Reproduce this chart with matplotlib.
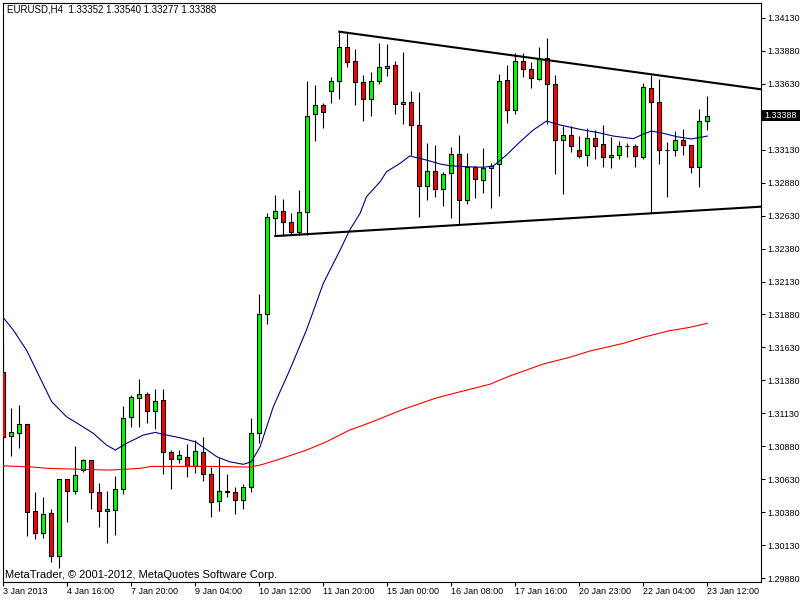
import numpy as np
import matplotlib
matplotlib.use('Agg')
import matplotlib.pyplot as plt
from matplotlib.patches import Rectangle

# EURUSD H4 candles (bar 0 = leftmost, bar 88 = last)
opens = [
    1.31441, 1.30955, 1.30981, 1.31046, 1.30388, 1.30219, 1.30371, 1.30049, 1.30629, 1.30542,
    1.30697, 1.30773, 1.30529, 1.30386, 1.30393, 1.30553, 1.31099, 1.31244, 1.31276, 1.31145,
    1.31228, 1.30834, 1.30781, 1.30800, 1.30727, 1.30834, 1.30667, 1.30462, 1.30534, 1.30529,
    1.30469, 1.30568, 1.30981, 1.31881, 1.32610, 1.32663, 1.32582, 1.32506, 1.32655, 1.33399,
    1.33467, 1.33574, 1.33649, 1.33908, 1.33801, 1.33642, 1.33513, 1.33649, 1.33748, 1.33771,
    1.33475, 1.33490, 1.33316, 1.32855, 1.32971, 1.32830, 1.32951, 1.33095, 1.32746, 1.33001,
    1.32898, 1.32994, 1.33020, 1.33657, 1.33432, 1.33801, 1.33741, 1.33667, 1.33829, 1.33627,
    1.33204, 1.33240, 1.33126, 1.33088, 1.33217, 1.33171, 1.33073, 1.33088, 1.33156, 1.33156,
    1.33077, 1.33596, 1.33490, 1.33130, 1.33126, 1.33202, 1.33164, 1.32999, 1.33352]
highs = [
    1.31686, 1.31172, 1.31193, 1.31046, 1.30529, 1.30497, 1.30401, 1.30629, 1.30629, 1.30882,
    1.30785, 1.30773, 1.30603, 1.30539, 1.30656, 1.31185, 1.31269, 1.31388, 1.31290, 1.31312,
    1.31312, 1.30851, 1.30851, 1.30894, 1.30927, 1.30948, 1.30720, 1.30788, 1.30669, 1.30573,
    1.30591, 1.31096, 1.32035, 1.32652, 1.32787, 1.32754, 1.32652, 1.32822, 1.33652, 1.33621,
    1.33483, 1.33680, 1.34026, 1.34014, 1.33892, 1.33697, 1.33722, 1.33938, 1.33930, 1.33804,
    1.33870, 1.33574, 1.33568, 1.33179, 1.33164, 1.32963, 1.33151, 1.33240, 1.33103, 1.33009,
    1.33143, 1.33027, 1.33705, 1.33773, 1.33867, 1.33862, 1.33798, 1.33908, 1.33976, 1.33697,
    1.33308, 1.33308, 1.33234, 1.33293, 1.33280, 1.33316, 1.33229, 1.33196, 1.33184, 1.33170,
    1.33635, 1.33697, 1.33665, 1.33187, 1.33275, 1.33285, 1.33164, 1.33439, 1.33540]
lows = [
    1.30932, 1.30808, 1.30869, 1.30198, 1.30178, 1.30183, 1.30001, 1.29958, 1.30307, 1.30517,
    1.30682, 1.30403, 1.30269, 1.30148, 1.30208, 1.30517, 1.31028, 1.31023, 1.31056, 1.31013,
    1.30671, 1.30553, 1.30750, 1.30648, 1.30679, 1.30616, 1.30345, 1.30388, 1.30497, 1.30368,
    1.30406, 1.30530, 1.30902, 1.31805, 1.32475, 1.32475, 1.32483, 1.32483, 1.32483, 1.33199,
    1.33297, 1.33487, 1.33515, 1.33760, 1.33472, 1.33350, 1.33388, 1.33627, 1.33692, 1.33404,
    1.33328, 1.33092, 1.32622, 1.32749, 1.32774, 1.32705, 1.32610, 1.32566, 1.32718, 1.32761,
    1.32800, 1.32686, 1.32781, 1.33331, 1.33404, 1.33680, 1.33601, 1.33659, 1.33323, 1.32948,
    1.32792, 1.33111, 1.33065, 1.33009, 1.33062, 1.32999, 1.32989, 1.33058, 1.33077, 1.32998,
    1.33062, 1.32652, 1.33020, 1.32769, 1.33080, 1.33092, 1.32956, 1.32845, 1.33277]
closes = [
    1.30948, 1.30985, 1.31046, 1.30383, 1.30219, 1.30363, 1.30049, 1.30629, 1.30544, 1.30658,
    1.30773, 1.30529, 1.30386, 1.30403, 1.30553, 1.31092, 1.31251, 1.31276, 1.31145, 1.31225,
    1.30834, 1.30781, 1.30811, 1.30727, 1.30841, 1.30667, 1.30454, 1.30539, 1.30537, 1.30469,
    1.30568, 1.30981, 1.31881, 1.32617, 1.32663, 1.32582, 1.32506, 1.32655, 1.33388, 1.33467,
    1.33414, 1.33649, 1.33908, 1.33798, 1.33642, 1.33513, 1.33649, 1.33756, 1.33768, 1.33475,
    1.33490, 1.33316, 1.32855, 1.32971, 1.32830, 1.32944, 1.33095, 1.32746, 1.33001, 1.32906,
    1.32992, 1.33009, 1.33649, 1.33432, 1.33801, 1.33741, 1.33672, 1.33817, 1.33627, 1.33204,
    1.33240, 1.33158, 1.33080, 1.33217, 1.33161, 1.33073, 1.33088, 1.33156, 1.33158, 1.33080,
    1.33603, 1.33490, 1.33126, 1.33128, 1.33202, 1.33164, 1.32999, 1.33346, 1.33388]

# moving averages (bar position, value)
ma_blue_x = [-0.1, 1.25, 2.9, 4.6, 6.05, 7.9, 9.6, 11.25, 12.9, 14.0, 15.4, 17.5, 19.0, 20.0,
             22.1, 24.0, 25.2, 26.7, 28.3, 30.0, 31.0, 32.1, 33.75, 35.8, 37.9, 40.0, 42.1,
             43.3, 44.6, 45.4, 47.1, 47.9, 49.6, 50.8, 52.0, 52.9, 54.6, 55.8, 57.9, 60.0,
             61.25, 62.9, 64.6, 66.25, 67.9, 69.6, 72.1, 74.2, 76.25, 78.75, 80.0, 81.0,
             82.5, 84.2, 86.0, 87.25, 88.0]
ma_blue_y = [1.31863, 1.31762, 1.31610, 1.31398, 1.31218, 1.31104, 1.31041, 1.30978, 1.30889,
             1.30851, 1.30902, 1.30965, 1.30985, 1.30970, 1.30944, 1.30914, 1.30864, 1.30800,
             1.30762, 1.30743, 1.30762, 1.30876, 1.31180, 1.31458, 1.31762, 1.32116, 1.32369,
             1.32521, 1.32648, 1.32774, 1.32887, 1.32963, 1.33027, 1.33083, 1.33065, 1.33052,
             1.33022, 1.33009, 1.33001, 1.32997, 1.33007, 1.33090, 1.33191, 1.33280, 1.33348,
             1.33318, 1.33285, 1.33262, 1.33234, 1.33214, 1.33249, 1.33272, 1.33255, 1.33229,
             1.33212, 1.33225, 1.33234]
ma_red_x = [-0.4, 3.3, 5.6, 13.3, 17.1, 18.5, 26.25, 30.8, 32.1, 34.2, 37.9, 40.4, 43.3, 45.8,
            50.0, 54.2, 58.3, 60.8, 63.3, 67.5, 70.8, 73.3, 77.5, 80.0, 83.3, 85.8, 88.0]
ma_red_y = [1.30732, 1.30724, 1.30712, 1.30699, 1.30712, 1.30727, 1.30727, 1.30722, 1.30737,
            1.30775, 1.30851, 1.30914, 1.31003, 1.31058, 1.31160, 1.31248, 1.31312, 1.31350,
            1.31413, 1.31504, 1.31555, 1.31602, 1.31661, 1.31707, 1.31757, 1.31782, 1.31813]

# triangle trend lines (start bar, end at right edge)
tl_up_x = [42, 94.7]
tl_up_y = [1.34026, 1.33589]
tl_dn_x = [34, 94.7]
tl_dn_y = [1.32475, 1.32698]

date_bars = [0, 8, 16, 24, 32, 40, 48, 56, 64, 72, 80, 88]
date_labels = ['3 Jan 2013', '4 Jan 16:00', '7 Jan 20:00', '9 Jan 04:00', '10 Jan 12:00',
               '11 Jan 20:00', '15 Jan 00:00', '16 Jan 08:00', '17 Jan 16:00',
               '20 Jan 23:00', '22 Jan 04:00', '23 Jan 12:00']
price_ticks = [1.29880, 1.30130, 1.30380, 1.30630, 1.30880, 1.31130, 1.31380, 1.31630,
               1.31880, 1.32130, 1.32380, 1.32630, 1.32880, 1.33130, 1.33630, 1.33880, 1.34130]

symbol = 'EURUSD,H4'
last_price = '1.33388'

plt.rcParams['font.family'] = ['Liberation Sans', 'DejaVu Sans']
fs = 6.5

fig = plt.figure(figsize=(8, 6), dpi=100)
ax = fig.add_axes([2.7 / 800, 18.3 / 600, 758 / 800, 579 / 600])

o = np.array(opens)
c = np.array(closes)
idx = np.arange(len(o))
up = c >= o
body_lo = np.minimum(o, c)
body_h = np.maximum(np.abs(c - o), 0.000015)

ax.vlines(idx, lows, highs, color='black', lw=0.8, zorder=2)
ax.bar(idx, body_h, width=0.5, bottom=body_lo,
       color=np.where(up, '#00ff00', '#ff0000'), edgecolor='black', linewidth=0.8, zorder=3)

ax.plot(ma_red_x, ma_red_y, color='#ff0000', lw=0.8, zorder=4)
ax.plot(ma_blue_x, ma_blue_y, color='#000080', lw=0.8, zorder=4)
ax.plot(tl_up_x, tl_up_y, color='black', lw=1.5, zorder=5)
ax.plot(tl_dn_x, tl_dn_y, color='black', lw=1.5, zorder=5)

ax.set_xlim(-0.075, 94.675)
ax.set_ylim(1.29852, 1.34246)

ax.set_xticks(date_bars)
ax.set_xticklabels(date_labels, ha='left')
ax.tick_params(axis='x', length=3, width=0.8, pad=1, labelsize=fs)
ax.yaxis.tick_right()
ax.set_yticks(price_ticks)
ax.set_yticklabels(['%.5f' % p for p in price_ticks])
ax.tick_params(axis='y', length=3, width=0.8, pad=2, labelsize=fs)
for s in ax.spines.values():
    s.set_linewidth(0.8)

# header: symbol and OHLC of the last bar
ohlc = ' '.join('%.5f' % v for v in [opens[-1], highs[-1], lows[-1], closes[-1]])
fig.text(7 / 800, 1 - 5 / 600, symbol + '  ' + ohlc, va='top', fontsize=7)
fig.text(5 / 800, 1 - 578.5 / 600, 'MetaTrader, \u00a9 2001-2012, MetaQuotes Software Corp.',
         va='baseline', fontsize=8)

# current price label on the price scale
fig.patches.append(Rectangle((761 / 800, 1 - 121 / 600), 39 / 800, 11 / 600,
                             transform=fig.transFigure, facecolor='black', edgecolor='none'))
fig.text(764 / 800, 1 - 115.5 / 600, last_price, color='white', va='center', fontsize=fs)

fig.savefig('out.png', dpi=100)
